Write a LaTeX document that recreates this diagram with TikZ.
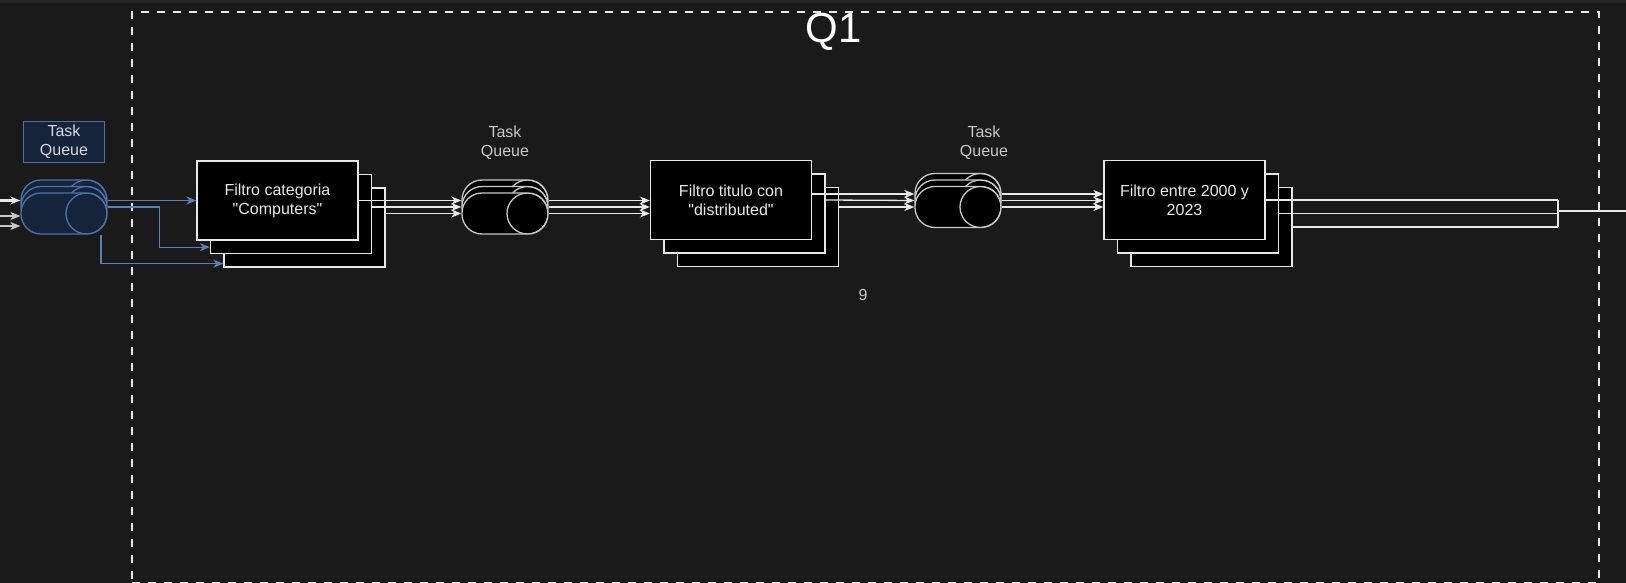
\documentclass[tikz,border=0pt]{standalone}
\usepackage{fontspec}
\setmainfont{Liberation Sans}[Ligatures=TeXOff]
\definecolor{canvas}{HTML}{1A1A1A}
\definecolor{topbar}{HTML}{252525}
\definecolor{edge}{HTML}{E8E8E8}
\definecolor{softedge}{HTML}{C8C8C8}
\definecolor{qblue}{HTML}{4D72A8}
\definecolor{qfill}{HTML}{15243B}
\definecolor{flowblue}{HTML}{5A80B9}
\definecolor{bluetext}{HTML}{D3D9E2}
\usetikzlibrary{arrows.meta, positioning, calc}

\begin{document}
\begin{tikzpicture}[
    x=1pt, y=-1pt,
    filt/.style={draw=edge, rectangle, fill=black, minimum width=161pt, minimum height=79pt,
                 line width=1.3pt, align=center, text=edge, font=\fontsize{16pt}{19pt}\selectfont},
    wqueue/.style={draw=softedge, rectangle, fill=black, rounded corners=20pt,
                   minimum width=86pt, minimum height=41pt, inner sep=0pt, line width=1.3pt,
                   path picture={\draw[softedge, line width=1.3pt] ([xshift=-20.5pt]path picture bounding box.east) circle[radius=20.5pt];}},
    bqueue/.style={wqueue, draw=qblue, fill=qfill,
                   path picture={\draw[qblue, line width=1.3pt] ([xshift=-20.5pt]path picture bounding box.east) circle[radius=20.5pt];}},
    qlabel/.style={align=center, text=softedge, font=\fontsize{16pt}{19pt}\selectfont},
    bluelabel/.style={qlabel, draw=qblue, fill=qfill, text=bluetext, minimum width=81pt,
                      minimum height=41pt, inner sep=0pt, line width=1.3pt},
    groupframe/.style={draw=edge, dash pattern=on 8pt off 8pt, line width=2.4pt,
                       minimum width=1467pt, minimum height=571pt, inner sep=0pt},
    flow/.style={-{Stealth[length=10pt, width=8pt, inset=3pt]}, line width=1.3pt, edge},
    blueflow/.style={flow, flowblue},
    link/.style={line width=1.3pt, edge}
]
    % Background
    \fill[canvas] (0,0) rectangle (1626,583);
    \fill[topbar] (0,0) rectangle (1626,3);
    \useasboundingbox (0,0) rectangle (1626,583);

    % Group
    \node[groupframe, anchor=north west] (q1box) at (131,11) {};
    \node[font=\fontsize{42pt}{48pt}\selectfont, text=white, anchor=base] (q1title) at (834,43) {Q1};
    \node[qlabel] (count) at (863,295) {9};

    % Nodes
    \node[bqueue] (q1c) at (64,200.5) {};
    \node[bqueue] (q1b) at (64,207) {};
    \node[bqueue] (q1a) at (64,213.5) {};
    \node[bluelabel, above=16pt of q1c] (lq1) {Task\\Queue};

    \node[filt] (fc3) at (304.5,227.5) {};
    \node[filt] (fc2) at ([shift={(-13.5,-13.5)}]fc3) {};
    \node[filt] (fc1) at ([shift={(-13.5,-13.5)}]fc2) {Filtro categoria\\"Computers"};

    \node[wqueue] (q2c) at (505,200.5) {};
    \node[wqueue] (q2b) at (505,207) {};
    \node[wqueue] (q2a) at (505,213.5) {};
    \node[qlabel] (lq2) at ($(q2c)+(0,-58)$) {Task\\Queue};

    \node[filt] (ft3) at (758,227) {};
    \node[filt] (ft2) at ([shift={(-13.5,-13.5)}]ft3) {};
    \node[filt] (ft1) at ([shift={(-13.5,-13.5)}]ft2) {Filtro titulo con\\"distributed"};

    \node[wqueue] (q3c) at (958,194) {};
    \node[wqueue] (q3b) at (958,200.5) {};
    \node[wqueue] (q3a) at (958,207) {};
    \node[qlabel] (lq3) at (984,142.5) {Task\\Queue};

    \node[filt] (fe3) at (1211.5,227) {};
    \node[filt] (fe2) at ([shift={(-13.5,-13.5)}]fe3) {};
    \node[filt] (fe1) at ([shift={(-13.5,-13.5)}]fe2) {Filtro entre 2000 y\\2023};

    \coordinate (in1) at (0,200.5);
    \coordinate (in2) at (0,216);
    \coordinate (in3) at (0,226);
    \coordinate (join) at (1558,211);
    \coordinate (exit) at (1626,211);

    % Arrows
    \draw[flow, line width=2pt] (in1) -- (in1 -| q1a.west);
    \draw[flow, line width=2pt, softedge] (in2) -- (in2 -| q1a.west);
    \draw[flow, line width=2pt, softedge] (in3) -- (in3 -| q1a.west);

    \draw[blueflow] (q1c.east) -- (q1c.east -| fc1.west);
    \draw[blueflow] (q1b.east) -- ++(52,0) |- ([yshift=7pt]fc2.south west);
    \draw[blueflow] ([xshift=37pt]q1a.south) |- ([yshift=4pt]fc3.south west);

    \draw[flow] (fc1.east) -- (q2c.west);
    \draw[flow] ([yshift=7pt]fc2.east) -- (q2b.west);
    \draw[flow] ([yshift=14pt]fc3.east) -- (q2a.west);

    \draw[flow] (q2c.east) -- (q2c.east -| ft1.west);
    \draw[flow] (q2b.east) -- (q2b.east -| ft1.west);
    \draw[flow] (q2a.east) -- (q2a.east -| ft1.west);

    \draw[flow] ([yshift=6pt]ft1.east) -- (q3c.west);
    \draw[flow] ([yshift=13.5pt]ft2.east) -- (q3b.west);
    \draw[flow] ([yshift=20pt]ft3.east) -- (q3a.west);

    \draw[flow] (q3c.east) -- (q3c.east -| fe1.west);
    \draw[flow] (q3b.east) -- (q3b.east -| fe1.west);
    \draw[flow] (q3a.east) -- (q3a.east -| fe1.west);

    \draw[link] (fe1.east) -- (fe1.east -| join);
    \draw[link] (fe2.east) -- (fe2.east -| join);
    \draw[link] (fe3.east) -- (fe3.east -| join);
    \draw[link] (fe1.east -| join) -- (fe3.east -| join);
    \draw[link] (join) -- (exit);
\end{tikzpicture}
\end{document}
